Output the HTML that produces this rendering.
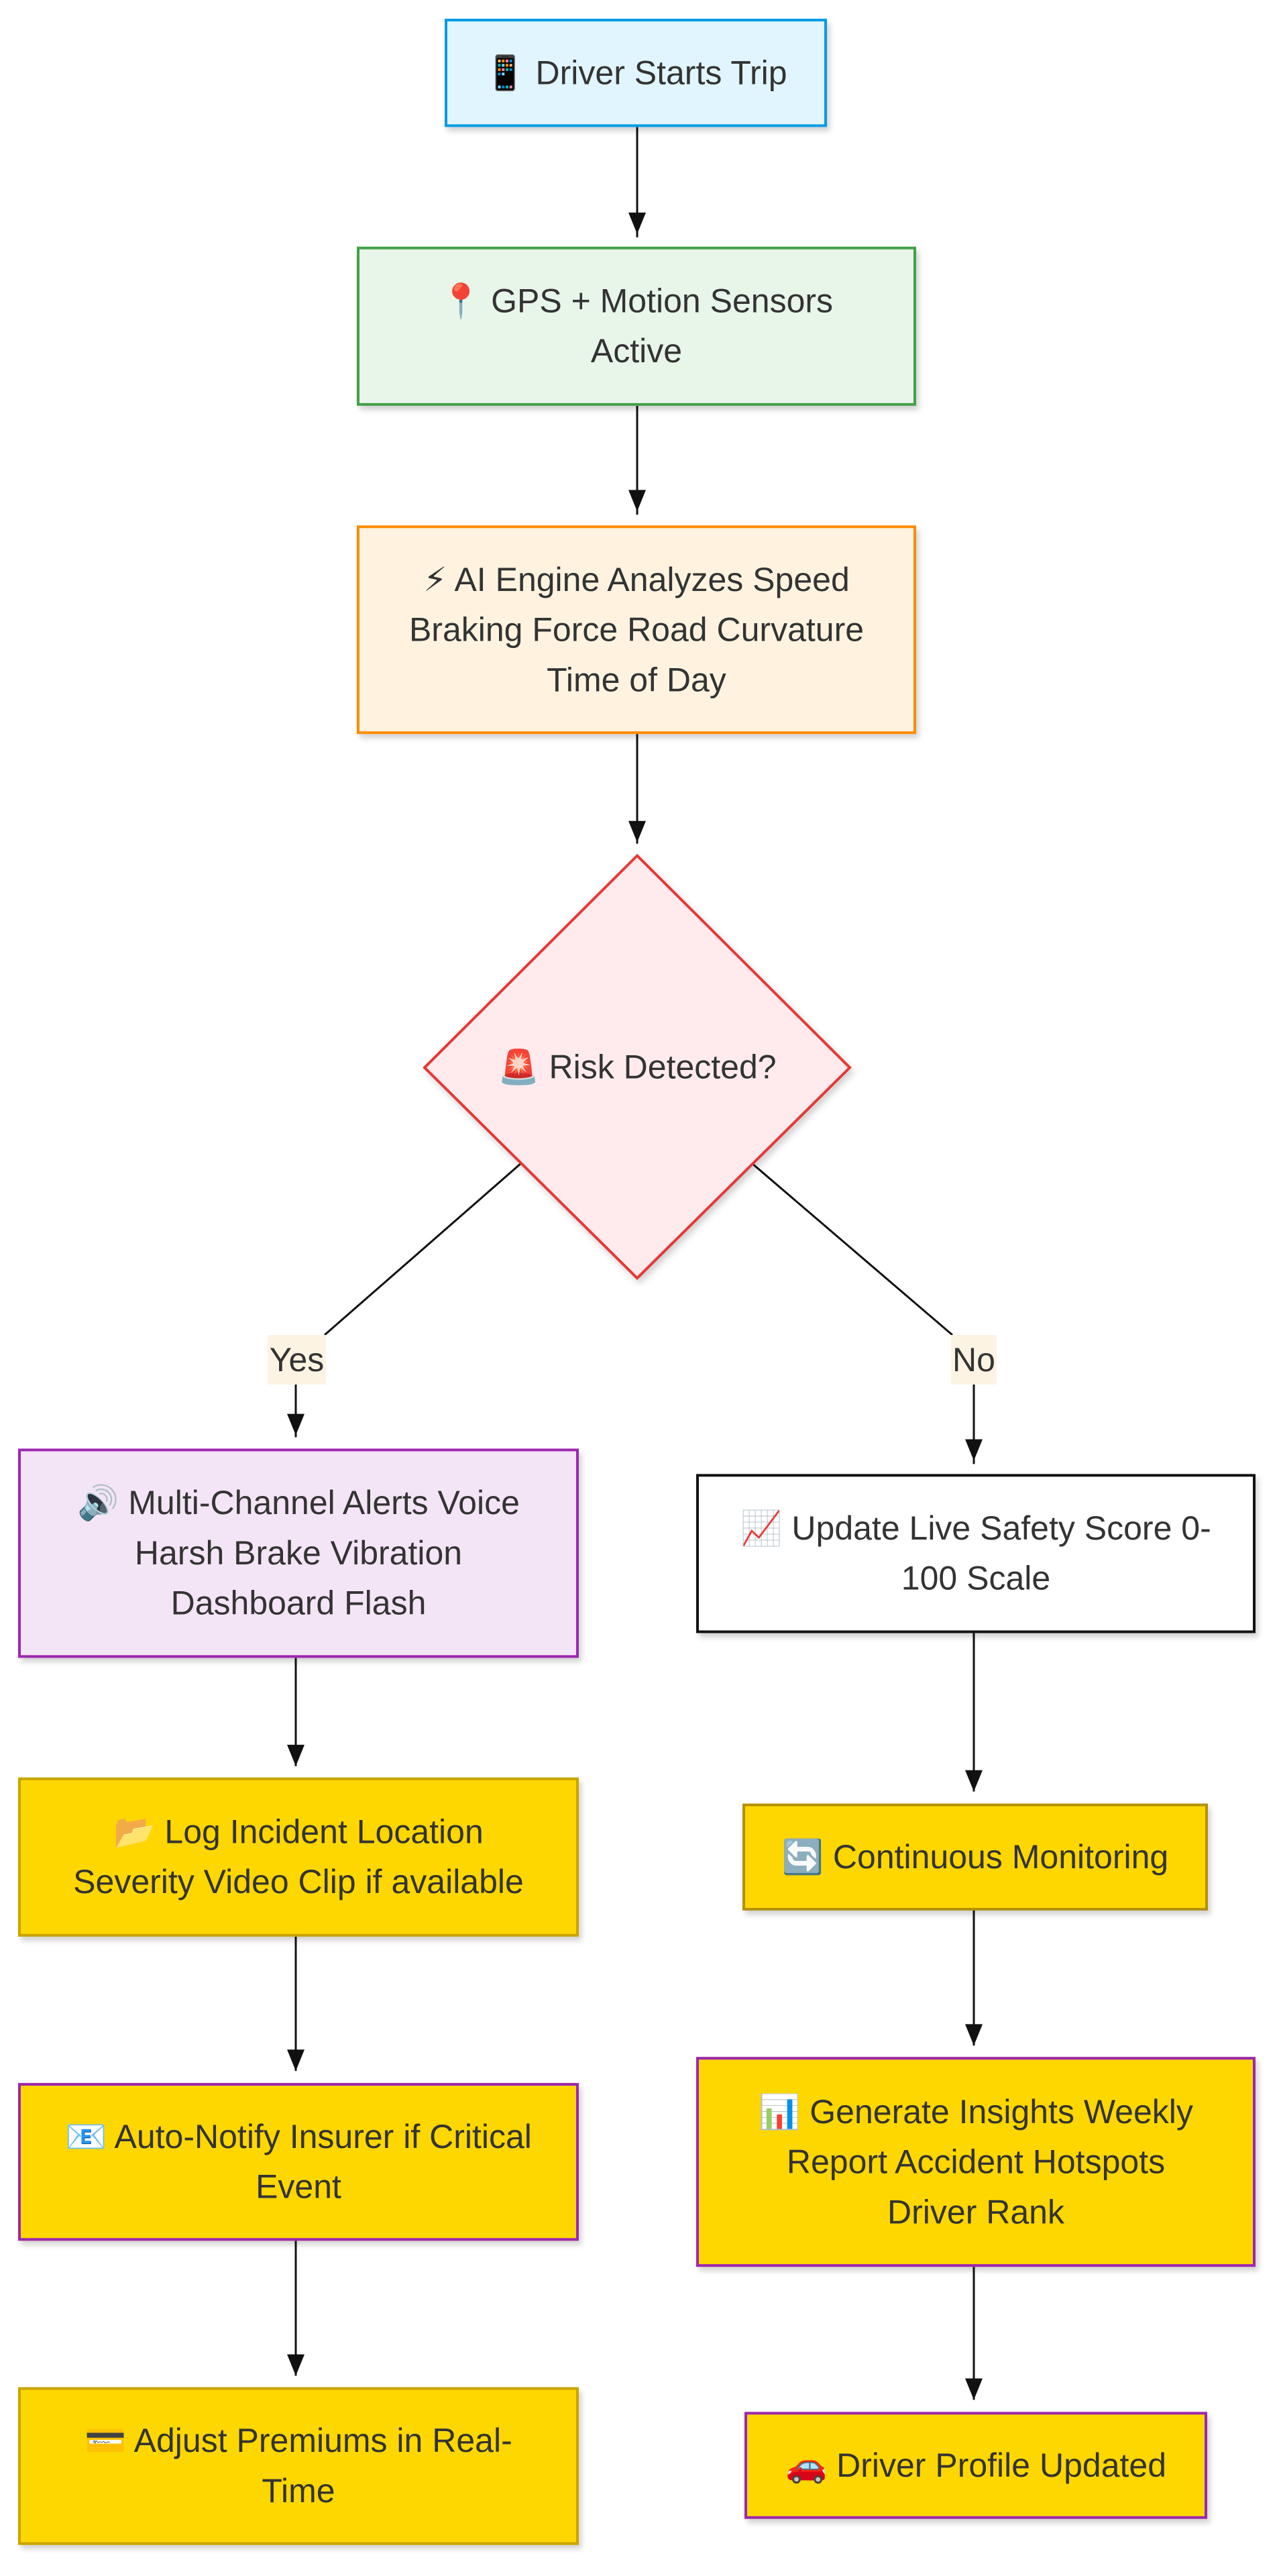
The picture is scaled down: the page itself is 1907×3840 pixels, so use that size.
<!DOCTYPE html>
<html><head><meta charset="utf-8"><style>
html,body{margin:0;padding:0;background:#fff;}
body{width:1907px;height:3840px;position:relative;overflow:hidden;font-family:"Liberation Sans","DejaVu Sans",sans-serif;}
#w{position:absolute;left:0;top:0;width:1907px;height:3840px;transform:translateX(-3px) scaleY(0.9965);transform-origin:0 0;}
.n{position:absolute;box-sizing:border-box;display:flex;align-items:center;justify-content:center;text-align:center;font-size:50px;line-height:75px;color:#333;box-shadow:4px 6px 8px rgba(0,0,0,0.18);border-width:4px;border-style:solid;padding:0 10px;}
.lbl{position:absolute;background:#fdf3e3;font-size:50px;color:#333;display:flex;align-items:center;justify-content:center;}
svg{position:absolute;left:0;top:0;}
</style></head><body><div id="w">
<svg width="1907" height="3840">
<g stroke="#111" stroke-width="3" fill="none">
<line x1="953" y1="190" x2="953" y2="355"/>
<line x1="953" y1="607" x2="953" y2="770"/>
<line x1="953" y1="1098" x2="953" y2="1262"/>
<line x1="779" y1="1741" x2="487" y2="1997"/>
<line x1="1125" y1="1741" x2="1423" y2="1997"/>
<line x1="444" y1="2071" x2="444" y2="2150"/>
<line x1="1455" y1="2071" x2="1455" y2="2190"/>
<line x1="444" y1="2480" x2="444" y2="2642"/>
<line x1="1455" y1="2443" x2="1455" y2="2680"/>
<line x1="444" y1="2897" x2="444" y2="3098"/>
<line x1="1455" y1="2858" x2="1455" y2="3060"/>
<line x1="444" y1="3352" x2="444" y2="3554"/>
<line x1="1455" y1="3391" x2="1455" y2="3590"/>
</g>
<g fill="#111">
<path d="M940,318 L966,318 L953,350 Z"/>
<path d="M940,733 L966,733 L953,765 Z"/>
<path d="M940,1228 L966,1228 L953,1260 Z"/>
<path d="M431,2115 L457,2115 L444,2147 Z"/>
<path d="M1442,2153 L1468,2153 L1455,2185 Z"/>
<path d="M431,2610 L457,2610 L444,2642 Z"/>
<path d="M1442,2648 L1468,2648 L1455,2680 Z"/>
<path d="M431,3066 L457,3066 L444,3098 Z"/>
<path d="M1442,3028 L1468,3028 L1455,3060 Z"/>
<path d="M431,3522 L457,3522 L444,3554 Z"/>
<path d="M1442,3558 L1468,3558 L1455,3590 Z"/>
</g>
<polygon points="953,1280 1270,1597 953,1912 636,1597" fill="#ffebee" stroke="#e53935" stroke-width="4" style="filter:drop-shadow(4px 6px 5px rgba(0,0,0,0.18))"/>
</svg>
<div class="lbl" style="left:402px;top:1997px;width:87px;height:74px;">Yes</div>
<div class="lbl" style="left:1421px;top:1997px;width:68px;height:74px;">No</div>
<div class="n" style="left:636px;top:1280px;width:634px;height:632px;border:none;box-shadow:none;">🚨 Risk Detected?</div>
<div class="n" style="left:666px;top:28px;width:570px;height:162px;background:#e1f5fe;border-color:#039be5;">📱 Driver Starts Trip</div>
<div class="n" style="left:535px;top:369px;width:834px;height:238px;background:#e8f5e9;border-color:#43a047;">📍 GPS + Motion Sensors<br>Active</div>
<div class="n" style="left:535px;top:786px;width:834px;height:312px;background:#fff3e0;border-color:#fb8c00;">⚡ AI Engine Analyzes Speed<br>Braking Force Road Curvature<br>Time of Day</div>
<div class="n" style="left:30px;top:2167px;width:836px;height:313px;background:#f3e5f5;border-color:#9c27b0;">🔊 Multi-Channel Alerts Voice<br>Harsh Brake Vibration<br>Dashboard Flash</div>
<div class="n" style="left:1041px;top:2205px;width:834px;height:238px;background:#fff;border-color:#111;">📈 Update Live Safety Score 0-<br>100 Scale</div>
<div class="n" style="left:30px;top:2659px;width:836px;height:238px;background:#ffd700;border-color:#c9a400;">📂 Log Incident Location<br>Severity Video Clip if available</div>
<div class="n" style="left:1110px;top:2698px;width:694px;height:160px;background:#ffd700;border-color:#b59000;">🔄 Continuous Monitoring</div>
<div class="n" style="left:30px;top:3116px;width:836px;height:236px;background:#ffd700;border-color:#9c27b0;">📧 Auto-Notify Insurer if Critical<br>Event</div>
<div class="n" style="left:1041px;top:3077px;width:834px;height:314px;background:#ffd700;border-color:#9c27b0;">📊 Generate Insights Weekly<br>Report Accident Hotspots<br>Driver Rank</div>
<div class="n" style="left:30px;top:3571px;width:836px;height:236px;background:#ffd700;border-color:#c9a400;">💳 Adjust Premiums in Real-<br>Time</div>
<div class="n" style="left:1113px;top:3608px;width:690px;height:160px;background:#ffd700;border-color:#9c27b0;">🚗 Driver Profile Updated</div>
</div></body></html>
